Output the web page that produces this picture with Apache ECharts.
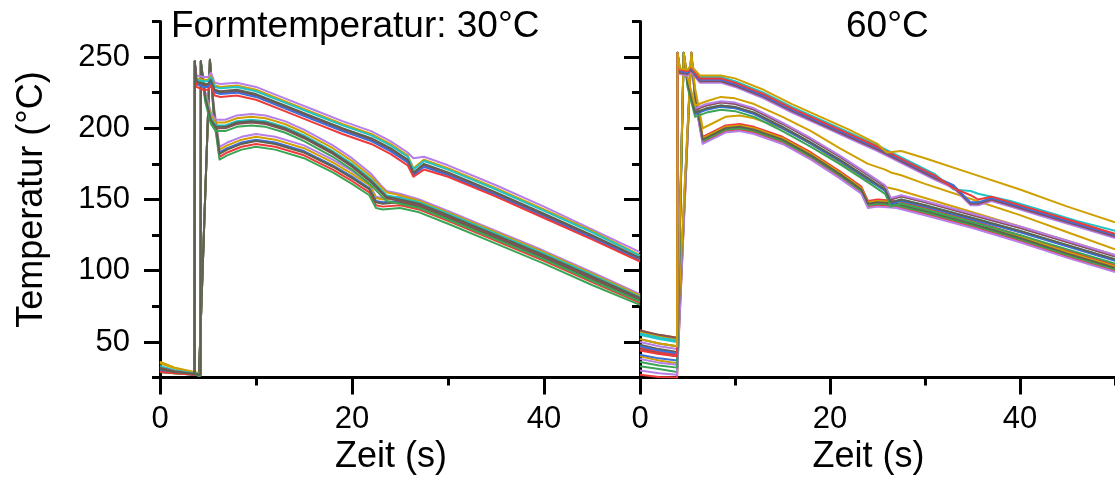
<!DOCTYPE html>
<html><head><meta charset="utf-8">
<script src="https://cdn.jsdelivr.net/npm/echarts@6/dist/echarts.min.js"></script>
<style>html,body{margin:0;padding:0;background:#fff}#c{width:1115px;height:482px}</style>
</head><body><div id="c"></div><script>
// ---- tick values / labels ----
var yMajor = [50, 100, 150, 200, 250];
var yMinor = [25, 75, 125, 175, 225, 275];
var xMajor = [0, 20, 40];
var xMinor = [10, 30, 50];
var titles = ['Formtemperatur: 30°C', '60°C'];

// ---- left panel (30°C), time arrays (s) ----
var tLA = [0,1.5,3.6,3.62,3.8,4.5,5.0,5.3,5.7,6.3,8,10,13,16,19,22,24,25.8,26.4,27.5,30,35,40,45,50];
var tLB = [0,1.5,3.6,4.22,4.25,4.7,5.3,5.8,6.8,8,9.5,11,13,15,18,20,22,23.0,23.6,25,27,30,35,40,45,50];
var tLC = [0,1.5,3.6,4.06,5.2,5.6,6.2,7,8.5,10,12,15,18,20,21.8,22.5,23.2,25,27,30,35,40,45,50];
// group A (first injection)
var LA1 = [30,28.5,27,247,237,236,236,239,232,231,232,229,221,213,205,198,191,183,179,180,174,160,145,129,113];
var LA2 = [36,32,28.5,247,235,234,234,237,230,229,230,227,219,211,203,196,189,181,172,178,172,158,143,128,111];
var LA3 = [33,30,28,247,234,233,233,236,229,228,229,226,218,210,202,195,188,180,171,177,171,157,142,127,110.5];
var LA4 = [32,29.5,27.5,247,232,230,230,233,226,225,226,223,215,207,199,192,185,177,168,174,168,154,139,124,108.5];
var LA5 = [30,28.5,27,247,231,229,229,232,225,224,225,222,214,206,198,191,184,176,167,173,167,153,138,123,107.5];
var LA6 = [29,28,27,247,229,227,227,230,223,222,223,220,212,204,196,189,182,174,166,171,166,152,137,122,106.5];
var LA7 = [31,29,27.5,247,233,231,231,234,227,226,227,224,216,208,200,193,186,178,169,175,169,155,140,125,109];
// group B
var LB1 = [30,28.5,27,26.5,247,226,211,206,206,209,210,209,205,199,188,179,168,160,156,154,150,142,128,114,99,83.5];
var LB2 = [35,31.5,28.5,28,247,224,209,204,204,207,208,207,203,197,186,177,166,159,155,153,149,141,127,113,98,82.5];
var LB3 = [33,30,28,27.5,247,223,207,202,202,205,206,205,201,195,184,175,164,157,153,151,148,140,126,112,97,81.5];
var LB4 = [32,29.5,27.5,27,247,221,205,200,200,203,204,203,199,193,182,173,162,155,151,149,146,138,124,110,95,80.5];
var LB5 = [29,28,27,26.5,247,219,203,198,198,201,202,201,197,191,180,171,160,153,149,147,144,136,122,108,93,78.5];
var LB6 = [31,29,27.5,27,247,222,206,201,201,204,205,204,200,194,183,174,163,156,152,150,147,139,125,111,96,81];
// group C
var LC1 = [30,28.5,27.5,26.5,248,216,187,190,194,196,194,188,178,170,161,152,151,152,149,140,126,112,97,82];
var LC2 = [36,32,29,28,248,214,185,188,192,194,192,186,176,168,160,151,150,151,148,139,125,111,96,81];
var LC3 = [32,29.5,28,27,248,213,183,186,190,192,190,184,174,166,158,149,148,149,146,138,124,110,95,80];
var LC4 = [30,28.5,27.5,26.5,248,210,180,183,187,189,187,181,171,163,155,146,145,146,143,135,121,107,92,77.5];
var LC5 = [29,28,27,26.5,248,208,178,181,185,187,185,179,169,161,153,144,143,144,141,133,119,105,90,76];
var LC6 = [31,29,28,27,248,212,182,185,189,191,189,183,173,165,157,148,147,148,145,137,123,109,94,79];

// ---- right panel (60°C) ----
var tRA = [0,2,3.9,3.95,4.2,5.0,5.35,6.3,7,8.5,10,13,16,19,22,25,28,31,33,34.8,35.6,37,39,42,46,50];
var tRY = [0,2,3.9,3.95,4.2,5.0,5.35,6.3,7,8.5,10,13,16,19,22,25,26,27.5,30,35,40,45,50];
var tRB = [0,2,3.9,4.6,5.0,5.8,7,8.5,10,12,15,18,21,24,25.8,26.4,27.5,30,35,40,45,50];
var tRC = [0,2,3.9,5.4,5.8,6.6,7.5,9,10.5,12,15,18,21,23.3,24,25,27,30,35,40,45,50];
var RA1 = [56,53,51,253,242,241,244,236,236,236,233,225,215,206,197,188,178,168,157,156,154,152,149,143,135,128];
var RA2 = [50,47,45,253,238,237,240,232,232,232,229,221,211,202,193,184,174,164,158,146,146,149,145,139,131,123];
var RA3 = [58,55,53,253,239,238,241,233,233,233,230,222,212,203,194,185,175,165,159,147,147,150,146,140,132,124];
var RA4 = [47,44,42,253,240,239,242,234,234,234,231,223,213,204,195,186,176,166,160,148,148,151,147,141,133,125];
var RA5 = [44,41.5,40,253,241,240,243,235,235,235,232,224,214,205,196,187,177,167,158,153,150,152,148,142,134,126];
var RY1 = [52,49,47,253,242,241,244,237,237,237,235,227,217,208,199,189,183,184,179,168,157,145,134];
var RB1 = [45,42,40,253,234,213,216,218,217,213,203,192,180,167,159,150,152,148,139,130,120,110];
var RB2 = [38,35.5,34,253,235,214,217,219,218,214,204,193,181,168,160,151,153,149,140,131,121,111];
var RB3 = [55,52,50,253,232,211,214,216,215,211,201,190,178,165,157,148,150,146,137,128,118,108];
var RB4 = [41,38.5,37,253,231,210,213,215,214,210,200,189,177,164,156,147,149,145,136,127,117,107];
var RB5 = [36,33.5,32,253,229,208,211,213,212,208,198,187,175,162,154,145,147,143,134,125,115,105];
var RB6 = [48,45,43,253,232,211,214,216,215,211,201,190,178,165,157,148,150,146,137,128,118,108];
var RY2 = [58,55,53,253,236,216,219,222,221,217,208,198,186,175,171,169,167,161,150,139,127,115];
var RC1 = [46,43,41,253,224,194,197,202,203,201,194,183,170,159,149,150,149,144,135,125,114,104];
var RC2 = [27,25.5,25,253,220,190,193,198,199,197,190,179,166,155,145,146,145,140,131,121,110,100];
var RC3 = [40,37,35,253,223,193,196,201,202,200,193,182,169,158,148,149,148,143,134,124,113,103];
var RC4 = [33,31,29,253,221,191,194,199,200,198,191,180,167,156,146,147,146,141,132,122,111,101];
var RC5 = [30,28,27,253,219,189,192,197,198,196,189,178,165,154,144,145,144,139,130,120,109,99];
var RC6 = [52,49,47,253,222,192,195,200,201,199,192,181,168,157,147,148,147,142,133,123,112,102];
var RY3 = [57,54,52,253,228,200,203,208,209,207,200,189,176,166,163,160,157,151,141,131,121,111];

var C = {gold:'#cfa000', purple:'#b57ee8', cyan:'#1fc4c8', brown:'#8a4f55', red:'#f03a3a',
         green:'#3aa655', blue:'#3a6fd8', gray:'#5f6150'};

function mk(p, t, v, col) {
  return {type:'line', xAxisIndex:p*2, yAxisIndex:p*2, showSymbol:false, symbol:'none',
    silent:true, animation:false, clip:true,
    lineStyle:{width:2, color:col, join:'round'}, itemStyle:{color:col},
    data: t.map(function(x,i){return [x, v[i]];})};
}

var series = [
  mk(0,tLC,LC1,C.purple), mk(0,tLC,LC2,C.gold), mk(0,tLC,LC3,C.blue), mk(0,tLC,LC4,C.red), mk(0,tLC,LC5,C.green), mk(0,tLC,LC6,C.gray),
  mk(0,tLB,LB1,C.purple), mk(0,tLB,LB2,C.gold), mk(0,tLB,LB3,C.cyan), mk(0,tLB,LB4,C.brown), mk(0,tLB,LB5,C.green), mk(0,tLB,LB6,C.gray),
  mk(0,tLA,LA1,C.purple), mk(0,tLA,LA2,C.gold), mk(0,tLA,LA3,C.cyan), mk(0,tLA,LA4,C.brown), mk(0,tLA,LA5,C.blue), mk(0,tLA,LA6,C.red), mk(0,tLA,LA7,C.gray),
  mk(1,tRC,RC1,C.red), mk(1,tRC,RC2,C.red), mk(1,tRC,RC3,C.gold), mk(1,tRC,RC4,C.green), mk(1,tRC,RC5,C.purple), mk(1,tRC,RC6,C.gray),
  mk(1,tRC,RY3,C.gold),
  mk(1,tRB,RB1,C.brown), mk(1,tRB,RB2,C.purple), mk(1,tRB,RB3,C.cyan), mk(1,tRB,RB4,C.blue), mk(1,tRB,RB5,C.green), mk(1,tRB,RB6,C.gray),
  mk(1,tRB,RY2,C.gold),
  mk(1,tRA,RA1,C.cyan), mk(1,tRA,RA2,C.purple), mk(1,tRA,RA3,C.brown), mk(1,tRA,RA4,C.blue), mk(1,tRA,RA5,C.red),
  mk(1,tRY,RY1,C.gold)
];

var FONT = 'Liberation Sans, Arial, sans-serif';
var BLK = '#000';
function xAx(g, major, named) {
  return {type:'value', gridIndex:g, min:0, max:50, position:'bottom', offset:0,
    name: named ? 'Zeit (s)' : '', nameLocation:'middle', nameGap:58,
    nameTextStyle:{fontSize:36, color:BLK, fontFamily:FONT, padding:[0,18,0,0]},
    axisLine:{show:major, onZero:false, lineStyle:{color:BLK, width:3}},
    axisTick:{show:true, length: major?17:8, customValues: major?xMajor:xMinor, lineStyle:{color:BLK, width:3}},
    axisLabel:{show:major, customValues:xMajor, fontSize:31, color:BLK, fontFamily:FONT, margin:26},
    splitLine:{show:false}};
}
function yAx(g, major, named, labels) {
  return {type:'value', gridIndex:g, min:25, max:275, position:'left', offset:0,
    name: named ? 'Temperatur (°C)' : '', nameLocation:'middle', nameGap:110,
    nameTextStyle:{fontSize:36, color:BLK, fontFamily:FONT},
    axisLine:{show:major, onZero:false, lineStyle:{color:BLK, width:3}},
    axisTick:{show:true, length: major?16:8, customValues: major?yMajor:yMinor, lineStyle:{color:BLK, width:3}},
    axisLabel:{show:labels, customValues:yMajor, fontSize:31, color:BLK, fontFamily:FONT, margin:30},
    splitLine:{show:false}};
}

var chart = echarts.init(document.getElementById('c'), null, {renderer:'canvas'});
chart.setOption({
  animation:false,
  backgroundColor:'#fff',
  title:[
    {text:titles[0], left:171, top:8, padding:0, textStyle:{fontSize:37, fontWeight:'normal', color:BLK, fontFamily:FONT}},
    {text:titles[1], left:846, top:8, padding:0, textStyle:{fontSize:37, fontWeight:'normal', color:BLK, fontFamily:FONT}}
  ],
  grid:[
    {left:160, top:21.4, width:480, height:356.2},
    {left:640, top:21.4, width:480, height:356.2}
  ],
  xAxis:[xAx(0,true,true), xAx(0,false,false), xAx(1,true,true), xAx(1,false,false)],
  yAxis:[yAx(0,true,true,true), yAx(0,false,false,false), yAx(1,true,false,false), yAx(1,false,false,false)],
  series: series
});
</script></body></html>
